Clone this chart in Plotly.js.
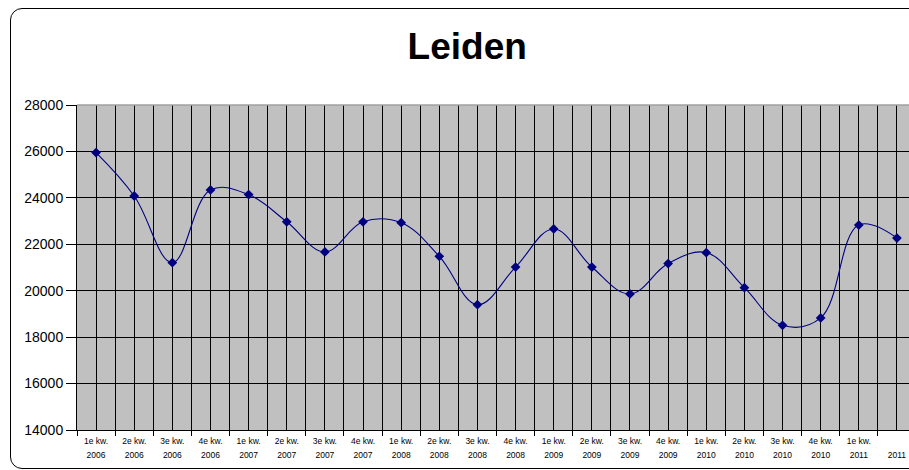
<!DOCTYPE html>
<html>
<head>
<meta charset="utf-8">
<script src="https://cdn.plot.ly/plotly-3.0.1.min.js"></script>
<style>
  html, body { margin: 0; padding: 0; background: #fff; overflow: hidden; }
  #frame { position: absolute; left: 10px; top: 8px; width: 1000px; height: 461px;
           border: 1.5px solid #000; border-radius: 12px; box-sizing: border-box; }
  #chart { position: absolute; left: 0; top: 0; width: 909px; height: 470px; }
</style>
</head>
<body>
<div id="frame"></div>
<div id="chart"></div>
<script>
const quarterLabels = ['1e kw.','2e kw.','3e kw.','4e kw.','1e kw.','2e kw.','3e kw.','4e kw.',
  '1e kw.','2e kw.','3e kw.','4e kw.','1e kw.','2e kw.','3e kw.','4e kw.',
  '1e kw.','2e kw.','3e kw.','4e kw.','1e kw.','2e kw.'];
const yearLabels = ['2006','2006','2006','2006','2007','2007','2007','2007',
  '2008','2008','2008','2008','2009','2009','2009','2009',
  '2010','2010','2010','2010','2011','2011'];
const values = [25950, 24080, 21210, 24340, 24140, 22970, 21670, 22970,
  22930, 21480, 19400, 21020, 22660, 21020, 19860, 21170,
  21640, 20130, 18510, 18830, 22830, 22270];
const yTicks = [14000, 16000, 18000, 20000, 22000, 24000, 26000, 28000];

const idx = values.map((_, i) => i);
const boundaries = [...idx.map(i => i - 0.5), idx.length - 0.5];
const navy = '#000080';
const fontFam = '"Liberation Sans", Arial, sans-serif';

const traces = [
  {
    x: idx, y: values, type: 'scatter', mode: 'lines+markers',
    line: { color: navy, width: 1.1, shape: 'spline', smoothing: 1.1 },
    marker: { symbol: 'diamond', size: 7.5, color: navy },
    hoverinfo: 'skip', showlegend: false
  },
  {
    x: idx, y: values, xaxis: 'x2', type: 'scatter', mode: 'markers',
    marker: { opacity: 0 }, hoverinfo: 'skip', showlegend: false
  }
];

const xRange = [-0.5, 21.316];
const layout = {
  width: 909, height: 470,
  margin: { l: 77, r: 0, t: 105, b: 40 },
  paper_bgcolor: 'rgba(0,0,0,0)',
  plot_bgcolor: '#C0C0C0',
  font: { family: fontFam, color: '#000' },
  title: {
    text: '<b>Leiden</b>',
    font: { family: fontFam, size: 37, color: '#000' },
    xref: 'container', yref: 'container', x: 0.514, y: 0.903,
    xanchor: 'center', yanchor: 'middle'
  },
  xaxis: {
    type: 'linear', range: xRange, fixedrange: true,
    tickmode: 'array', tickvals: idx, ticktext: quarterLabels,
    ticks: '', tickfont: { size: 8.5, family: fontFam, color: '#000' },
    ticklabelstandoff: 3,
    showgrid: true, gridcolor: '#000', gridwidth: 1,
    zeroline: false,
    showline: true, linecolor: '#000', linewidth: 1,
    minor: { tickmode: 'array', tickvals: boundaries, ticks: 'outside', ticklen: 5,
             tickcolor: '#000', showgrid: true, gridcolor: '#000', gridwidth: 1 }
  },
  xaxis2: {
    type: 'linear', range: xRange, overlaying: 'x', side: 'bottom', anchor: 'y',
    fixedrange: true,
    tickmode: 'array', tickvals: idx, ticktext: yearLabels,
    ticks: '', tickfont: { size: 8.5, family: fontFam, color: '#000' },
    ticklabelstandoff: 18,
    showgrid: false, zeroline: false, showline: false
  },
  yaxis: {
    range: [14000, 28000], fixedrange: true,
    tickmode: 'array', tickvals: yTicks, ticktext: yTicks.map(String),
    ticks: 'outside', ticklen: 10, tickcolor: '#000',
    tickfont: { size: 14, family: fontFam, color: '#000' },
    showgrid: true, gridcolor: '#000', gridwidth: 1,
    zeroline: false,
    showline: true, linecolor: '#000', linewidth: 1
  },
  shapes: [
    { type: 'line', xref: 'paper', yref: 'paper', x0: 0, x1: 1, y0: 1, y1: 1,
      line: { color: '#A0A0A0', width: 1.5 }, layer: 'above' }
  ]
};

Plotly.newPlot('chart', traces, layout, { displayModeBar: false, staticPlot: true });
</script>
</body>
</html>
